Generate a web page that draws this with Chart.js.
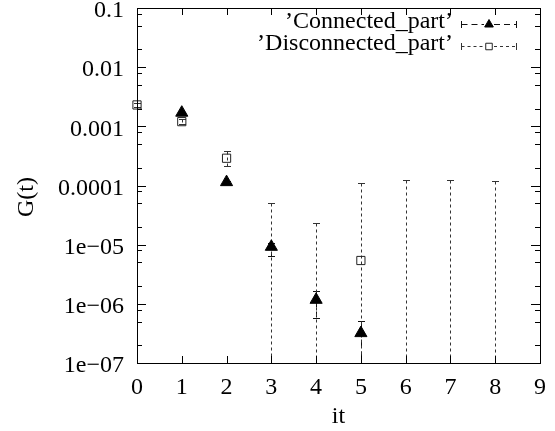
<!DOCTYPE html>
<html>
<head>
<meta charset="utf-8">
<script src="https://cdn.jsdelivr.net/npm/chart.js@4.4.0/dist/chart.umd.min.js"></script>
<style>
  html, body { margin: 0; padding: 0; background: #fff; }
  #wrap { width: 555px; height: 431px; }
</style>
</head>
<body>
<div id="wrap"><canvas id="gChart" width="555" height="431"></canvas></div>
<script>
const itValues = [0, 1, 2, 3, 4, 5, 6, 7, 8];

// 'Connected_part' (filled triangles)
const connectedG    = [null, 1.70e-3, 1.14e-4, 9.2e-6, 1.17e-6, 3.2e-7, null, null, null];
const connectedLow  = [null, 1.64e-3, 1.10e-4, 6.5e-6, 5.8e-7, 0, null, null, null];
const connectedHigh = [null, 1.76e-3, 1.18e-4, 1.07e-5, 1.66e-6, 5.2e-7, null, null, null];

// 'Disconnected_part' (open squares); a low of 0 means the bar runs off the bottom
const disconnectedG    = [2.30e-3, 1.20e-3, 2.89e-4, null, null, 5.4e-6, null, null, null];
const disconnectedLow  = [2.15e-3, 1.10e-3, 2.14e-4, 0, 0, 0, 0, 0, 0];
const disconnectedHigh = [2.45e-3, 1.32e-3, 3.84e-4, 5.1e-5, 2.34e-5, 1.10e-4, 1.24e-4, 1.22e-4, 1.18e-4];

const yTickValues = [1e-1, 1e-2, 1e-3, 1e-4, 1e-5, 1e-6, 1e-7];
const yTickLabels = ["0.1", "0.01", "0.001", "0.0001", "1e\u221205", "1e\u221206", "1e\u221207"];
const yMinorFactors = [2, 5, 8];

const serif = "'Liberation Serif', 'Times New Roman', serif";

function vline(ctx, x, y1, y2) {
    ctx.beginPath();
    ctx.moveTo(x, y1);
    ctx.lineTo(x, y2);
    ctx.stroke();
}
function hline(ctx, x1, x2, y) {
    ctx.beginPath();
    ctx.moveTo(x1, y);
    ctx.lineTo(x2, y);
    ctx.stroke();
}

const gnuplotFrame = {
    id: "gnuplotFrame",
    beforeDatasetsDraw(chart) {
        const { ctx, chartArea, scales } = chart;
        ctx.save();
        ctx.beginPath();
        ctx.rect(0, chartArea.top, chart.width, chartArea.bottom - chartArea.top);
        ctx.clip();
        ctx.lineWidth = 1;
        chart.data.datasets.forEach(ds => {
            ctx.strokeStyle = ds.errColor;
            itValues.forEach((it, i) => {
                const lo = ds.errLow[i], hi = ds.errHigh[i];
                if (hi == null) return;
                const px = Math.round(scales.x.getPixelForValue(it)) + 0.5;
                const yHi = Math.round(scales.y.getPixelForValue(hi)) + 0.5;
                const yLo = lo > 0 ? Math.round(scales.y.getPixelForValue(lo)) + 0.5 : chartArea.bottom + 2;
                ctx.setLineDash(ds.errDash);
                vline(ctx, px, yHi, yLo);
                ctx.setLineDash([]);
                hline(ctx, px - 3.5, px + 3.5, yHi);
                if (lo > 0) hline(ctx, px - 3.5, px + 3.5, yLo);
            });
        });
        ctx.restore();
    },
    afterDraw(chart) {
        const { ctx, chartArea, scales } = chart;
        const { left, right, top, bottom } = chartArea;
        ctx.save();
        ctx.strokeStyle = "#000";
        ctx.lineWidth = 1;
        ctx.setLineDash([]);
        ctx.strokeRect(left + 0.5, top + 0.5, right - left, bottom - top);

        // inward ticks, mirrored on top and right
        scales.x.ticks.forEach(t => {
            const px = Math.round(scales.x.getPixelForValue(t.value)) + 0.5;
            vline(ctx, px, bottom, bottom - 7);
            vline(ctx, px, top, top + 7);
        });
        yTickValues.forEach(v => {
            const py = Math.round(scales.y.getPixelForValue(v)) + 0.5;
            hline(ctx, left, left + 9, py);
            hline(ctx, right, right - 9, py);
            if (v >= 1e-1) return;
            yMinorFactors.forEach(f => {
                const my = Math.round(scales.y.getPixelForValue(v * f)) + 0.5;
                hline(ctx, left, left + 5, my);
                hline(ctx, right, right - 5, my);
            });
        });

        // y axis title
        ctx.fillStyle = "#000";
        ctx.font = "24px " + serif;
        ctx.save();
        ctx.translate(33, 197);
        ctx.rotate(-Math.PI / 2);
        ctx.textAlign = "center";
        ctx.textBaseline = "alphabetic";
        ctx.fillText("G(t)", 0, 0);
        ctx.restore();

        // key, gnuplot style: text right-aligned, sample after it
        const keyRows = [{ base: 28, line: 24.5, r: 5 }, { base: 50, line: 46.5, r: 4.6 }];
        chart.data.datasets.forEach((ds, i) => {
            const row = keyRows[i];
            ctx.textAlign = "right";
            ctx.textBaseline = "alphabetic";
            ctx.fillText(ds.label, 453, row.base);
            const x1 = 461.5, x2 = 516.5, xm = 489, ly = row.line;
            ctx.strokeStyle = ds.errColor;
            ctx.setLineDash(ds.errDash);
            hline(ctx, x1, xm - 5, ly);
            hline(ctx, xm + 5, x2, ly);
            ctx.setLineDash([]);
            vline(ctx, x1, ly - 3.5, ly + 3.5);
            vline(ctx, x2, ly - 3.5, ly + 3.5);
            ctx.fillStyle = ds.backgroundColor;
            ctx.strokeStyle = ds.borderColor;
            ctx.lineWidth = ds.borderWidth;
            Chart.helpers.drawPoint(ctx, {
                pointStyle: ds.pointStyle, radius: row.r, borderWidth: ds.borderWidth, rotation: 0
            }, xm, ly);
            ctx.fillStyle = "#000";
            ctx.lineWidth = 1;
        });
        ctx.restore();
    }
};

const ctx = document.getElementById("gChart").getContext("2d");

const chart = new Chart(ctx, {
    type: "scatter",
    data: {
        datasets: [
            {
                label: "\u2019Connected_part\u2019",
                data: itValues.map((x, i) => ({ x: x, y: connectedG[i] })),
                pointStyle: "triangle",
                pointRadius: 7,
                pointHoverRadius: 7,
                backgroundColor: "#000",
                borderColor: "#000",
                borderWidth: 1,
                clip: false,
                errLow: connectedLow,
                errHigh: connectedHigh,
                errDash: [6, 4],
                errColor: "#111"
            },
            {
                label: "\u2019Disconnected_part\u2019",
                data: itValues.map((x, i) => ({ x: x, y: disconnectedG[i] })),
                pointStyle: "rect",
                pointRadius: 5.8,
                pointHoverRadius: 5.8,
                backgroundColor: "rgba(0,0,0,0)",
                borderColor: "#222",
                borderWidth: 1,
                clip: false,
                errLow: disconnectedLow,
                errHigh: disconnectedHigh,
                errDash: [3, 3],
                errColor: "#333"
            }
        ]
    },
    options: {
        responsive: false,
        animation: false,
        events: [],
        layout: { padding: { top: 8, right: 15, left: 0, bottom: 0 } },
        plugins: {
            legend: { display: false },
            tooltip: { enabled: false }
        },
        scales: {
            x: {
                type: "linear",
                min: 0,
                max: 9,
                grid: { display: false, drawTicks: false },
                border: { display: false },
                ticks: {
                    stepSize: 1,
                    autoSkip: false,
                    maxRotation: 0,
                    padding: 10,
                    color: "#000",
                    font: { family: serif, size: 24 }
                },
                title: {
                    display: true,
                    text: "it",
                    color: "#000",
                    font: { family: serif, size: 24 },
                    padding: 0
                },
                afterFit: s => { s.height = 68; s.paddingLeft = 0; s.paddingRight = 0; }
            },
            y: {
                type: "logarithmic",
                min: 1e-7,
                max: 0.1,
                grid: { display: false, drawTicks: false },
                border: { display: false },
                ticks: {
                    padding: 13,
                    labelOffset: 3,
                    color: "#000",
                    font: { family: serif, size: 24 },
                    callback: v => {
                        const i = yTickValues.findIndex(t => Math.abs(Math.log10(t) - Math.log10(v)) < 1e-6);
                        return i >= 0 ? yTickLabels[i] : "";
                    }
                },
                afterBuildTicks: s => { s.ticks = yTickValues.map(v => ({ value: v })); },
                afterFit: s => { s.width = 137; s.paddingTop = 0; s.paddingBottom = 0; }
            }
        }
    },
    plugins: [gnuplotFrame]
});
</script>
</body>
</html>
